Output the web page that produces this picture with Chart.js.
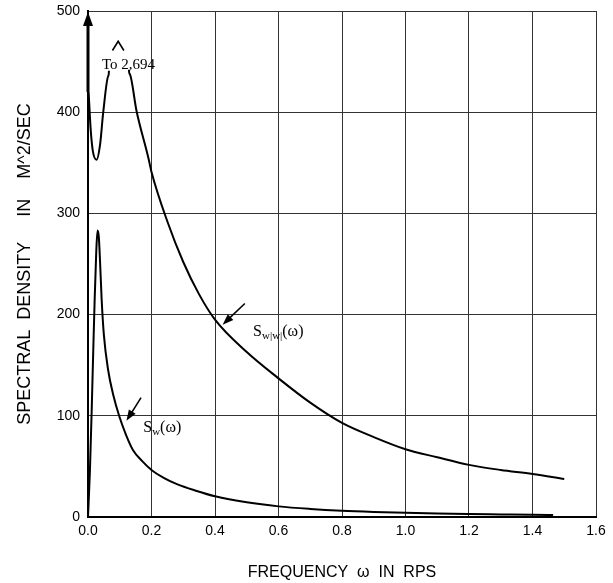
<!DOCTYPE html>
<html>
<head>
<meta charset="utf-8">
<script src="https://cdn.jsdelivr.net/npm/chart.js@4.4.1/dist/chart.umd.min.js"></script>
<style>
  body { margin: 0; background: #fff; }
  #wrap { width: 613px; height: 583px; }
</style>
</head>
<body>
<div id="wrap"><canvas id="spectrum" width="613" height="583"></canvas></div>
<script>
// ------------ Data ------------

// S_w(omega)
const freqW = [0, 0.006, 0.012, 0.017, 0.021, 0.026, 0.03, 0.034, 0.038, 0.043, 0.05, 0.063, 0.08, 0.098, 0.12, 0.142, 0.17, 0.2, 0.24, 0.28, 0.34, 0.4, 0.5, 0.6, 0.7, 0.8, 0.9, 1.0, 1.1, 1.2, 1.3, 1.4, 1.465];
const specW = [0, 45, 110, 170, 215, 262, 283, 277, 252, 215, 180, 146, 120, 100, 81, 66, 55.5, 46.5, 38.5, 32.5, 26, 20.5, 14.5, 10.5, 8, 6.2, 5, 4.1, 3.4, 2.9, 2.5, 2.1, 1.9];

// S_w|w|(omega) -- the peak near 0.095 runs off the top of the scale
const peakWW = 2694;
const freqWW = [0.002, 0.008, 0.015, 0.027, 0.038, 0.048, 0.064, 0.066, 0.095, 0.129, 0.131, 0.153, 0.19, 0.2, 0.25, 0.3, 0.35, 0.4, 0.5, 0.6, 0.7, 0.8, 0.9, 1.0, 1.1, 1.2, 1.3, 1.4, 1.5];
const specWW = [420, 385, 362, 353, 368, 400, 436, 441, peakWW, 442, 438, 401, 355, 341, 292, 252, 220, 195, 163, 137, 113, 93, 79, 67, 59, 51.5, 46.5, 42.6, 37.6];

// axes
const xTicks = [0, 0.2, 0.4, 0.6, 0.8, 1.0, 1.2, 1.4, 1.6];
const yTicks = [0, 100, 200, 300, 400, 500];

const toPoints = (xs, ys) => xs.map((v, i) => ({ x: v, y: ys[i] }));

// ------------ Annotations ------------

function arrow(ctx, x0, y0, x1, y1) {
  const a = Math.atan2(y1 - y0, x1 - x0);
  ctx.lineWidth = 1.6;
  ctx.beginPath();
  ctx.moveTo(x0, y0);
  ctx.lineTo(x1 - 8 * Math.cos(a), y1 - 8 * Math.sin(a));
  ctx.stroke();
  ctx.beginPath();
  ctx.moveTo(x1, y1);
  ctx.lineTo(x1 - 11 * Math.cos(a) + 4 * Math.sin(a), y1 - 11 * Math.sin(a) - 4 * Math.cos(a));
  ctx.lineTo(x1 - 11 * Math.cos(a) - 4 * Math.sin(a), y1 - 11 * Math.sin(a) + 4 * Math.cos(a));
  ctx.closePath();
  ctx.fill();
}

function subLabel(ctx, sub, x, y) {
  ctx.textAlign = 'left';
  ctx.textBaseline = 'middle';
  ctx.font = '16px "Liberation Serif"';
  ctx.fillText('S', x, y);
  let w = ctx.measureText('S').width;
  ctx.font = '11px "Liberation Serif"';
  ctx.fillText(sub, x + w, y + 4);
  w += ctx.measureText(sub).width;
  ctx.font = '16px "Liberation Serif"';
  ctx.fillText('(\u03c9)', x + w, y);
}

const notes = {
  id: 'notes',
  afterDatasetsDraw(chart) {
    const { ctx, scales: { x, y } } = chart;
    const px = v => x.getPixelForValue(v);
    const py = v => y.getPixelForValue(v);
    ctx.save();
    ctx.fillStyle = '#000';
    ctx.strokeStyle = '#000';

    // arrowhead on the y axis
    const ax = px(0), ay = py(500);
    ctx.beginPath();
    ctx.moveTo(ax, ay + 1);
    ctx.lineTo(ax - 5, ay + 15);
    ctx.lineTo(ax + 5, ay + 15);
    ctx.closePath();
    ctx.fill();
    ctx.lineWidth = 3;
    ctx.beginPath();
    ctx.moveTo(ax, ay + 14);
    ctx.lineTo(ax, py(420));
    ctx.stroke();

    // caret + off-scale peak value
    ctx.lineWidth = 1.6;
    ctx.beginPath();
    ctx.moveTo(px(0.077), py(461));
    ctx.lineTo(px(0.095), py(470));
    ctx.lineTo(px(0.113), py(461));
    ctx.stroke();
    ctx.font = '15px "Liberation Serif"';
    ctx.textAlign = 'left';
    ctx.textBaseline = 'middle';
    ctx.fillText('To ' + peakWW.toLocaleString('en-US'), px(0.044), py(447));

    // leaders and curve names
    arrow(ctx, px(0.494), py(211), px(0.424), py(190));
    subLabel(ctx, 'w|w|', px(0.52), py(183));
    arrow(ctx, px(0.167), py(118), px(0.121), py(95));
    subLabel(ctx, 'w', px(0.174), py(88));
    ctx.restore();
  }
};

// ------------ Chart ------------

new Chart(document.getElementById('spectrum'), {
  type: 'line',
  data: {
    datasets: [
      {
        label: 'S_w|w|',
        data: toPoints(freqWW, specWW),
        segment: {
          borderColor: c => (c.p0.parsed.y > 500 || c.p1.parsed.y > 500) ? 'rgba(0,0,0,0)' : undefined
        }
      },
      {
        label: 'S_w',
        data: toPoints(freqW, specW)
      }
    ]
  },
  options: {
    responsive: false,
    devicePixelRatio: 1,
    animation: false,
    layout: { padding: { top: 11, right: 17, left: 0, bottom: 0 } },
    elements: {
      line: { borderColor: '#000', borderWidth: 2, cubicInterpolationMode: 'monotone', fill: false },
      point: { radius: 0 }
    },
    plugins: { legend: { display: false }, tooltip: { enabled: false } },
    scales: {
      x: {
        type: 'linear',
        min: 0,
        max: 1.6,
        afterFit: s => { s.height = 66; },
        afterBuildTicks: s => { s.ticks = xTicks.map(v => ({ value: v })); },
        ticks: {
          padding: 6,
          color: '#000',
          font: { family: '"Liberation Sans", Arial', size: 14 },
          callback: v => v.toFixed(1)
        },
        grid: { color: '#333', lineWidth: 1, drawTicks: false },
        border: { display: true, color: '#000', width: 2 },
        title: {
          display: true,
          text: 'FREQUENCY  \u03c9  IN  RPS',
          color: '#000',
          font: { family: '"Liberation Sans", Arial', size: 16 },
          padding: { top: 0, bottom: 1 }
        }
      },
      y: {
        min: 0,
        max: 500,
        afterFit: s => { s.width = 88; s.paddingTop = 0; s.paddingBottom = 0; },
        afterBuildTicks: s => { s.ticks = yTicks.map(v => ({ value: v })); },
        ticks: {
          padding: 8,
          color: '#000',
          font: { family: '"Liberation Sans", Arial', size: 14 }
        },
        grid: { color: '#333', lineWidth: 1, drawTicks: false },
        border: { display: true, color: '#000', width: 2 },
        title: {
          display: true,
          text: 'SPECTRAL  DENSITY     IN    M^2/SEC',
          color: '#000',
          font: { family: '"Liberation Sans", Arial', size: 18 },
          padding: { top: 14, bottom: 0 }
        }
      }
    }
  },
  plugins: [notes]
});
</script>
</body>
</html>
